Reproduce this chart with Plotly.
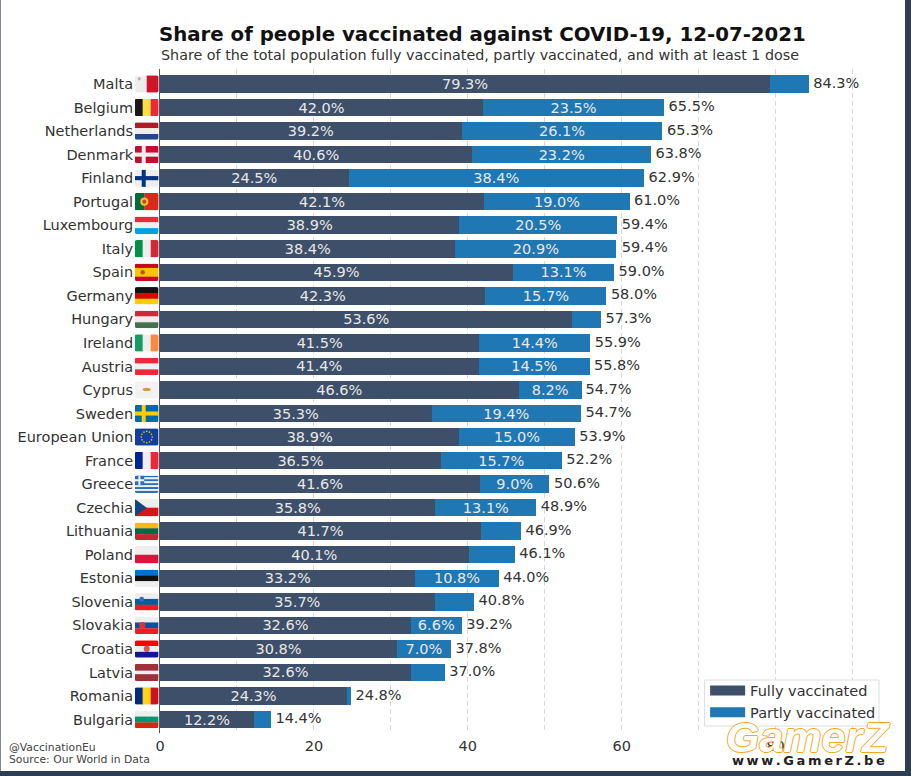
import base64, math
import plotly.graph_objects as go

countries = ["Malta","Belgium","Netherlands","Denmark","Finland","Portugal","Luxembourg","Italy","Spain","Germany","Hungary","Ireland","Austria","Cyprus","Sweden","European Union","France","Greece","Czechia","Lithuania","Poland","Estonia","Slovenia","Slovakia","Croatia","Latvia","Romania","Bulgaria"]
fully = [79.3,42.0,39.2,40.6,24.5,42.1,38.9,38.4,45.9,42.3,53.6,41.5,41.4,46.6,35.3,38.9,36.5,41.6,35.8,41.7,40.1,33.2,35.7,32.6,30.8,32.6,24.3,12.2]
partly = [5.0,23.5,26.1,23.2,38.4,19.0,20.5,20.9,13.1,15.7,3.7,14.4,14.5,8.2,19.4,15.0,15.7,9.0,13.1,5.2,6.0,10.8,5.1,6.6,7.0,4.4,0.5,2.2]
totals = [84.3,65.5,65.3,63.8,62.9,61.0,59.4,59.4,59.0,58.0,57.3,55.9,55.8,54.7,54.7,53.9,52.2,50.6,48.9,46.9,46.1,44.0,40.8,39.2,37.8,37.0,24.8,14.4]
x_ticks = [0,10,20,30,40,50,60,70,80,90]
x_tick_labels = ["0","","20","","40","","60","","80",""]

FULL = "#3d4f69"
PART = "#1f77b4"
W, H = 24, 17
WHITE = "#eeeeee"

def h(*cols, w=None):
    w = w or [1]*len(cols)
    y, out = 0, ""
    for c, k in zip(cols, w):
        hh = H*k/sum(w)
        out += f'<rect x="0" y="{y}" width="{W}" height="{hh+0.2}" fill="{c}"/>'
        y += hh
    return out

def v(*cols, w=None):
    w = w or [1]*len(cols)
    x, out = 0, ""
    for c, k in zip(cols, w):
        ww = W*k/sum(w)
        out += f'<rect x="{x}" y="0" width="{ww+0.2}" height="{H}" fill="{c}"/>'
        x += ww
    return out

def cross(bg, fg):
    return (f'<rect width="{W}" height="{H}" fill="{bg}"/>'
            f'<rect x="7" y="0" width="4" height="{H}" fill="{fg}"/>'
            f'<rect x="0" y="6.5" width="{W}" height="4" fill="{fg}"/>')

def dot(x, y, r, c):
    return f'<circle cx="{x}" cy="{y}" r="{r}" fill="{c}"/>'

def eu():
    out = f'<rect width="{W}" height="{H}" fill="#123f9c"/>'
    for i in range(12):
        a = i*math.pi/6
        out += dot(12+5.5*math.cos(a), 8.5+5.5*math.sin(a), 0.8, "#ffcc00")
    return out

def greece():
    out = h("#2f6fb5", WHITE, "#2f6fb5", WHITE, "#2f6fb5", WHITE, "#2f6fb5", WHITE, "#2f6fb5")
    out += '<rect width="9.5" height="9.5" fill="#2f6fb5"/><rect x="3.7" width="2" height="9.5" fill="#eee"/><rect y="3.7" width="9.5" height="2" fill="#eee"/>'
    return out

flags = {
    "Malta": v(WHITE, "#cf142b") + dot(4.5, 3.5, 1.5, "#c9a0a5"),
    "Belgium": v("#1a1a1a", "#fae042", "#ed2939"),
    "Netherlands": h("#ae1c28", WHITE, "#21468b"),
    "Denmark": cross("#c60c30", WHITE),
    "Finland": cross(WHITE, "#003580"),
    "Portugal": v("#046a38", "#da291c", w=[2, 3]) + dot(9.6, 8.5, 4, "#f2c230") + dot(9.6, 8.5, 2, "#c8452f"),
    "Luxembourg": h("#ed2939", WHITE, "#00a1de"),
    "Italy": v("#009246", WHITE, "#ce2b37"),
    "Spain": h("#c60b1e", "#ffc400", "#c60b1e", w=[1, 2, 1]) + dot(8, 8.5, 2.2, "#b5552a"),
    "Germany": h("#111111", "#dd0000", "#ffce00"),
    "Hungary": h("#ce2939", WHITE, "#477050"),
    "Ireland": v("#169b62", WHITE, "#ff883e"),
    "Austria": h("#ed2939", WHITE, "#ed2939"),
    "Cyprus": f'<rect width="{W}" height="{H}" fill="#f2f2f2"/>' + '<ellipse cx="12" cy="8" rx="4" ry="1.6" fill="#d99a3a"/>',
    "Sweden": cross("#006aa7", "#fecc00"),
    "European Union": eu(),
    "France": v("#002395", WHITE, "#ed2939"),
    "Greece": greece(),
    "Czechia": h(WHITE, "#d7141a") + '<polygon points="0,0 12,8.5 0,17" fill="#11457e"/>',
    "Lithuania": h("#fdb913", "#006a44", "#c1272d"),
    "Poland": h(WHITE, "#dc143c"),
    "Estonia": h("#0072ce", "#111111", WHITE),
    "Slovenia": h(WHITE, "#005da4", "#ed1c24") + dot(7, 6, 2.4, "#3b6fb5"),
    "Slovakia": h(WHITE, "#0b4ea2", "#ee1c25") + dot(7.5, 8.5, 3.2, "#d9343a"),
    "Croatia": h("#ff0000", WHITE, "#171796") + dot(12, 8.5, 3, "#d9585a"),
    "Latvia": h("#9e3039", WHITE, "#9e3039", w=[2, 1, 2]),
    "Romania": v("#002b7f", "#fcd116", "#ce1126"),
    "Bulgaria": h(WHITE, "#00966e", "#d62612"),
}

def flag_uri(body):
    svg = (f'<svg xmlns="http://www.w3.org/2000/svg" width="{W*4}" height="{H*4}" viewBox="0 0 {W} {H}">'
           f'<defs><clipPath id="c"><rect width="{W}" height="{H}" rx="2.2" ry="2.2"/></clipPath></defs>'
           f'<g clip-path="url(#c)">{body}</g></svg>')
    return "data:image/svg+xml;base64," + base64.b64encode(svg.encode()).decode()

FIG_W, FIG_H = 911, 776
ML, MR, MT, MB = 159.5, 31, 69, 43
PW, PH = FIG_W - ML - MR, FIG_H - MT - MB
def px(x): return (x - ML) / PW
def py(y): return 1 - (y - MT) / PH

FONT = "DejaVu Sans"
fig = go.Figure()
for vals, name, col, thr in [(fully, "Fully vaccinated", FULL, 0), (partly, "Partly vaccinated", PART, 6.5)]:
    fig.add_bar(y=countries, x=vals, orientation="h", name=name, marker_color=col, marker_line_width=0, showlegend=False,
                text=[f"{a:.1f}%" if a >= thr else "" for a in vals], textposition="inside", insidetextanchor="middle",
                textangle=0, constraintext="none", insidetextfont=dict(color="#e8e8e8", size=14.5, family=FONT))
    # legend key: a wide swatch as in the reference
    fig.add_scatter(x=[None], y=[None], mode="lines", name=name, line=dict(color=col, width=11), hoverinfo="skip")
fig.add_scatter(y=countries, x=totals, mode="text", text=[f" {t:.1f}%" for t in totals],
                textposition="middle right", textfont=dict(color="#333333", size=14.5, family=FONT),
                showlegend=False, cliponaxis=False, hoverinfo="skip")

images = [dict(source=flag_uri(flags[c]), xref="paper", yref="y", x=px(146.2), y=i,
               sizex=24/PW, sizey=17.5/23.54, xanchor="center", yanchor="middle",
               sizing="stretch", layer="above") for i, c in enumerate(countries)]

THIN = "\u2009"
annotations = [
    dict(text="<b>Share of people vaccinated against COVID-19, 12-07-2021</b>",
         xref="paper", yref="paper", x=px(156), y=py(34), xanchor="left", yanchor="middle", showarrow=False,
         font=dict(family=FONT, size=19.75, color="#111111")),
    dict(text="Share of the total population fully vaccinated, partly vaccinated, and with at least 1 dose",
         xref="paper", yref="paper", x=px(479.5), y=py(54.5), xanchor="center", yanchor="middle", showarrow=False,
         font=dict(family=FONT, size=14.3, color="#333333")),
    dict(text="@VaccinationEu", xref="paper", yref="paper", x=px(6), y=py(747.5), xanchor="left", yanchor="middle",
         showarrow=False, font=dict(family=FONT, size=10.8, color="#444444")),
    dict(text="Source: Our World in Data", xref="paper", yref="paper", x=px(6), y=py(759.5), xanchor="left", yanchor="middle",
         showarrow=False, font=dict(family=FONT, size=10.8, color="#444444")),
    dict(text="<b>GamerZ</b>", xref="paper", yref="paper", x=px(808), y=py(737), xanchor="center", yanchor="middle",
         showarrow=False, font=dict(family="Liberation Sans", size=43, color="#ffffff", style="italic",
                                    shadow="1px 0 0 #f5a623, -1px 0 0 #f5a623, 0 1px 0 #f5a623, 0 -1px 0 #f5a623")),
    dict(text="<b>" + THIN.join("www.GamerZ.be") + "</b>", xref="paper", yref="paper", x=px(808), y=py(760.5), xanchor="center", yanchor="middle",
         showarrow=False, font=dict(family="DejaVu Sans", size=13, color="#222222")),
]

fig.update_layout(
    width=FIG_W, height=FIG_H, margin=dict(l=ML, r=MR, t=MT, b=MB, pad=0, autoexpand=False),
    barmode="stack", bargap=0.257,
    paper_bgcolor="#2c3e50", plot_bgcolor="rgba(0,0,0,0)",
    font=dict(family=FONT, size=14.5, color="#333333"),
    xaxis=dict(range=[0, (FIG_W - MR - ML)/7.7], tickvals=x_ticks, ticktext=x_tick_labels, showgrid=True,
               griddash="5px,3px", gridcolor="#d8d8d8", gridwidth=1, zeroline=False, showline=False, ticks="",
               tickfont=dict(size=14.5, color="#333333"), ticklabelstandoff=2),
    yaxis=dict(type="category", categoryorder="array", categoryarray=countries,
               range=[27.573, -0.637], showgrid=False, zeroline=False, showline=True, linecolor="#555555", linewidth=1,
               ticks="", tickfont=dict(size=14.5, color="#333333"), ticklabelstandoff=23),
    legend=dict(x=px(705), y=py(674.5), xanchor="left", yanchor="top", bgcolor="rgba(0,0,0,0)",
                borderwidth=0, font=dict(size=14.5, color="#333333"), traceorder="normal", itemwidth=35),
    shapes=[dict(type="rect", xref="paper", yref="paper", x0=px(0), x1=px(905), y0=py(771), y1=py(0),
                 fillcolor="white", line_width=0, layer="below"),
            dict(type="rect", xref="paper", yref="paper", x0=px(704.5), x1=px(879), y0=py(726), y1=py(680),
                 fillcolor="rgba(255,255,255,0.9)", line=dict(color="#dddddd", width=1), layer="above")],
    images=images, annotations=annotations,
)
fig.write_html("out.html", config={"displayModeBar": False},
               post_script="document.body.style.margin='0';document.documentElement.style.overflow='hidden';")
